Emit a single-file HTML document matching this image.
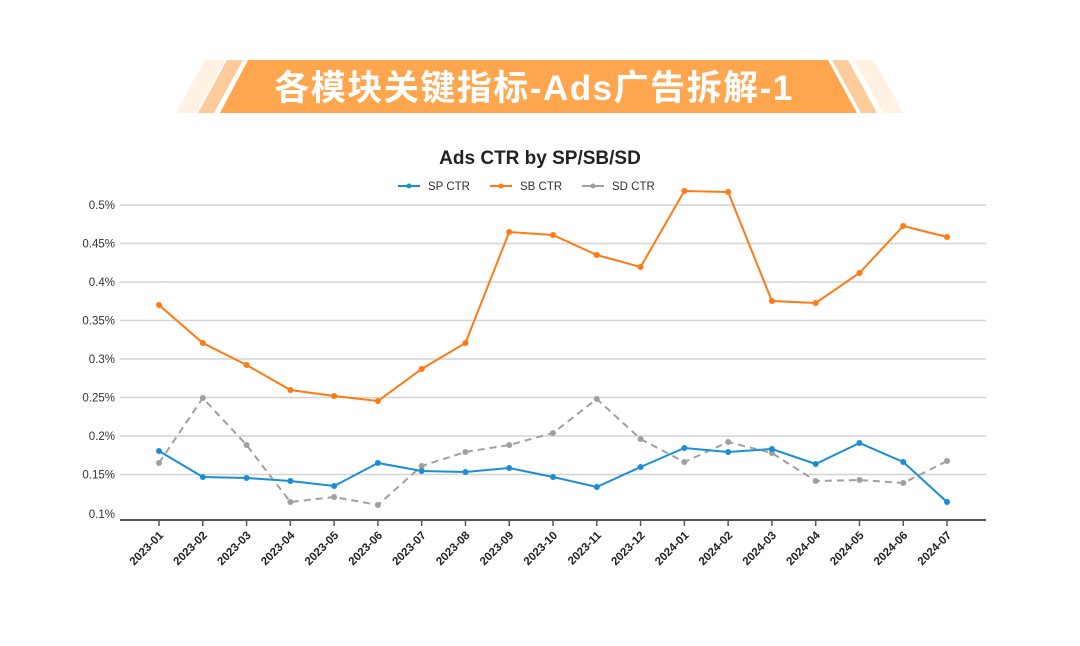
<!DOCTYPE html>
<html><head><meta charset="utf-8"><style>
body{margin:0;background:#fff;width:1080px;height:641px;overflow:hidden}
</style></head><body>
<svg width="1080" height="641" xmlns="http://www.w3.org/2000/svg" font-family="'Liberation Sans','Noto Sans CJK SC',sans-serif">
<polygon points="176,113 205,60 225,60 196,113" fill="#fff1e3"/>
<polygon points="198,113 227,60 243,60 214,113" fill="#fdcc9a"/>
<polygon points="220,113 248,60 828,60 857,113" fill="#ffa64e"/>
<polygon points="861,113 832,60 848,60 877,113" fill="#fdcc9a"/>
<polygon points="883,113 854,60 874,60 903,113" fill="#fff1e3"/>
<text x="534" y="100" text-anchor="middle" font-size="35" font-weight="bold" letter-spacing="1.5" fill="#fff">各模块关键指标-Ads广告拆解-1</text>
<text x="540" y="164" text-anchor="middle" font-size="19" font-weight="bold" fill="#222">Ads CTR by SP/SB/SD</text>
<g font-size="11.5" fill="#333">
<line x1="398" y1="186" x2="420" y2="186" stroke="#1a8fd6" stroke-width="2"/><circle cx="409" cy="186" r="2.5" fill="#1a8fd6"/><text x="428" y="190">SP CTR</text>
<line x1="490" y1="186" x2="512" y2="186" stroke="#ff7a12" stroke-width="2"/><circle cx="501" cy="186" r="2.5" fill="#ff7a12"/><text x="520" y="190">SB CTR</text>
<line x1="582" y1="186" x2="604" y2="186" stroke="#a0a0a0" stroke-width="2"/><circle cx="593" cy="186" r="2.5" fill="#a0a0a0"/><text x="612" y="190">SD CTR</text>
</g>
<g stroke="#d4d4d4" stroke-width="1.5">
<line x1="120" y1="205" x2="986" y2="205"/><line x1="120" y1="243.5" x2="986" y2="243.5"/><line x1="120" y1="282" x2="986" y2="282"/><line x1="120" y1="320.5" x2="986" y2="320.5"/><line x1="120" y1="359" x2="986" y2="359"/><line x1="120" y1="397.5" x2="986" y2="397.5"/><line x1="120" y1="436" x2="986" y2="436"/><line x1="120" y1="474.5" x2="986" y2="474.5"/>
</g>
<line x1="120" y1="520" x2="986" y2="520" stroke="#555" stroke-width="2"/>
<g font-size="11.5" fill="#333" text-anchor="end">
<text x="115" y="209">0.5%</text><text x="115" y="247.5">0.45%</text><text x="115" y="286">0.4%</text><text x="115" y="324.5">0.35%</text><text x="115" y="363">0.3%</text><text x="115" y="401.5">0.25%</text><text x="115" y="440">0.2%</text><text x="115" y="478.5">0.15%</text><text x="115" y="518">0.1%</text>
</g>
<g id="ticks" stroke="#555" stroke-width="1.5"></g>
<g id="xl" font-size="11.5" font-weight="600" fill="#222" text-anchor="end"></g>
<g id="series"></g>
</svg>
<script>
var ns="http://www.w3.org/2000/svg";
var labels=["2023-01","2023-02","2023-03","2023-04","2023-05","2023-06","2023-07","2023-08","2023-09","2023-10","2023-11","2023-12","2024-01","2024-02","2024-03","2024-04","2024-05","2024-06","2024-07"];
function X(i){return 159+i*43.78;}
var t=document.getElementById("ticks"),xl=document.getElementById("xl"),s=document.getElementById("series");
labels.forEach(function(l,i){var x=X(i);
var ln=document.createElementNS(ns,"line");ln.setAttribute("x1",x);ln.setAttribute("x2",x);ln.setAttribute("y1",520);ln.setAttribute("y2",526);t.appendChild(ln);
var tx=document.createElementNS(ns,"text");tx.setAttribute("transform","translate("+(x+5)+",536) rotate(-45)");tx.textContent=l;xl.appendChild(tx);});
var data=[
["#a0a0a0",[463,398,445,502,497,505,466,452,445,433,399,439,462,442,453,481,480,483,461],true],
["#ff7a12",[305,343,365,390,396,401,369,343,232,235,255,267,191,192,301,303,273,226,237],false],
["#1a8fd6",[451,477,478,481,486,463,471,472,468,477,487,467,448,452,449,464,443,462,502],false]];
data.forEach(function(d){var pts=d[1].map(function(y,i){return X(i)+","+y;}).join(" ");
var p=document.createElementNS(ns,"polyline");p.setAttribute("points",pts);p.setAttribute("fill","none");p.setAttribute("stroke",d[0]);p.setAttribute("stroke-width","2");if(d[2])p.setAttribute("stroke-dasharray","7,5");s.appendChild(p);
d[1].forEach(function(y,i){var c=document.createElementNS(ns,"circle");c.setAttribute("cx",X(i));c.setAttribute("cy",y);c.setAttribute("r",3);c.setAttribute("fill",d[0]);s.appendChild(c);});});
</script>
</body></html>
